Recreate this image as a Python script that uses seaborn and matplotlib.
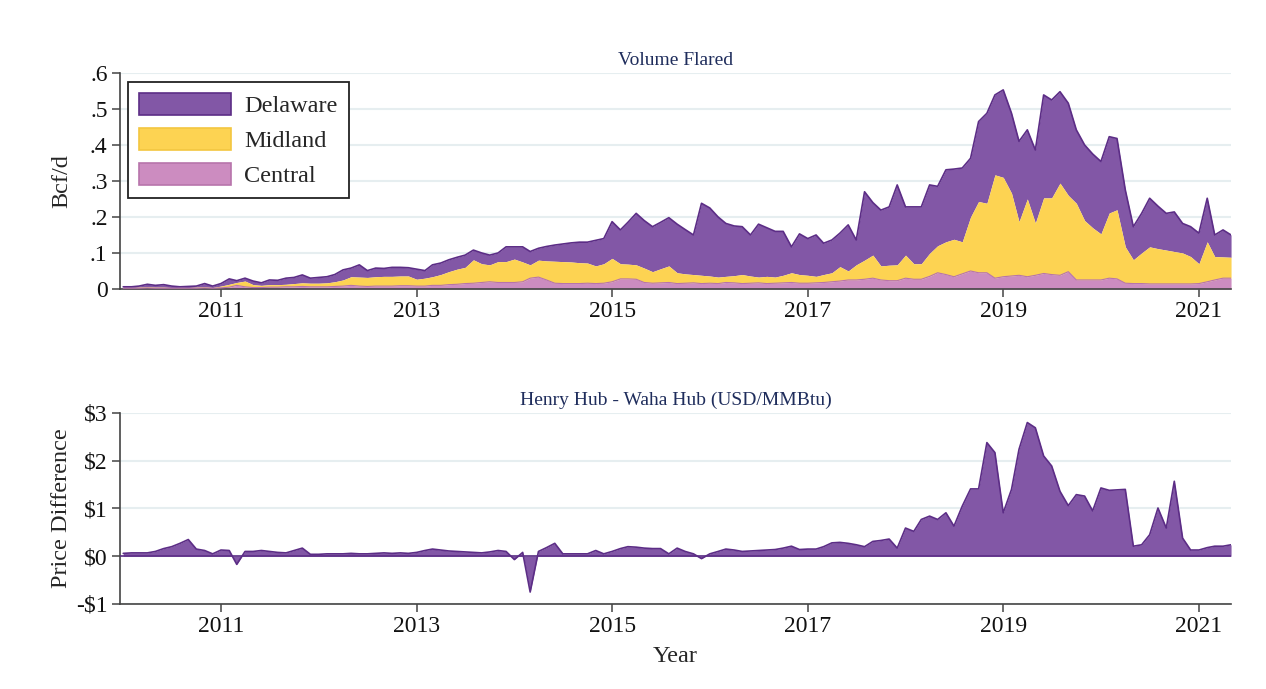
import matplotlib
matplotlib.use("Agg")
import matplotlib.pyplot as plt
import matplotlib.dates as mdates
from matplotlib.patches import Patch
import pandas as pd
import seaborn as sns

# monthly dates, Jan 2010 - May 2021
months = pd.date_range("2010-01-01", "2021-05-01", freq="MS")

# upper panel, read as stacked layer tops (Bcf/d)
# total = Delaware + Midland + Central
total_flared = [
    0.006, 0.006, 0.008, 0.013, 0.010, 0.012, 0.008, 0.006, 0.007, 0.008, 0.015, 0.008,
    0.015, 0.028, 0.023, 0.030, 0.022, 0.017, 0.025, 0.024, 0.030, 0.032, 0.039, 0.030,
    0.032, 0.034, 0.040, 0.053, 0.058, 0.067, 0.051, 0.058, 0.057, 0.060, 0.060, 0.059,
    0.055, 0.051, 0.067, 0.072, 0.081, 0.088, 0.094, 0.108, 0.100, 0.094, 0.100, 0.117,
    0.117, 0.117, 0.104, 0.113, 0.118, 0.122, 0.125, 0.128, 0.130, 0.130, 0.135, 0.140,
    0.187, 0.164, 0.185, 0.210, 0.190, 0.173, 0.185, 0.198, 0.180, 0.165, 0.150, 0.238,
    0.225, 0.200, 0.182, 0.175, 0.173, 0.150, 0.180, 0.170, 0.160, 0.160, 0.117, 0.153,
    0.140, 0.150, 0.127, 0.136, 0.155, 0.178, 0.136, 0.270, 0.240, 0.219, 0.228, 0.289,
    0.228, 0.228, 0.228, 0.289, 0.285, 0.331, 0.333, 0.336, 0.363, 0.465, 0.488, 0.539,
    0.553, 0.488, 0.410, 0.442, 0.386, 0.539, 0.525, 0.548, 0.516, 0.442, 0.400, 0.375,
    0.354, 0.423, 0.418, 0.275, 0.173, 0.210, 0.252, 0.230, 0.210, 0.214, 0.182, 0.173,
    0.155, 0.252, 0.150, 0.164, 0.150,
]
# Midland + Central
midland_top = [
    0.004, 0.004, 0.005, 0.006, 0.005, 0.005, 0.004, 0.004, 0.004, 0.005, 0.006, 0.004,
    0.008, 0.013, 0.018, 0.022, 0.012, 0.010, 0.012, 0.012, 0.013, 0.015, 0.017, 0.016,
    0.016, 0.017, 0.020, 0.025, 0.034, 0.033, 0.032, 0.034, 0.035, 0.035, 0.036, 0.036,
    0.027, 0.030, 0.034, 0.040, 0.048, 0.055, 0.060, 0.081, 0.070, 0.067, 0.076, 0.076,
    0.083, 0.075, 0.067, 0.080, 0.078, 0.077, 0.076, 0.075, 0.073, 0.072, 0.064, 0.070,
    0.085, 0.070, 0.069, 0.067, 0.058, 0.048, 0.056, 0.064, 0.045, 0.042, 0.040, 0.038,
    0.036, 0.033, 0.035, 0.037, 0.040, 0.036, 0.033, 0.035, 0.033, 0.038, 0.045, 0.040,
    0.038, 0.035, 0.040, 0.045, 0.062, 0.050, 0.067, 0.080, 0.094, 0.064, 0.066, 0.067,
    0.094, 0.070, 0.070, 0.099, 0.120, 0.131, 0.138, 0.131, 0.200, 0.243, 0.238, 0.317,
    0.310, 0.266, 0.187, 0.250, 0.183, 0.253, 0.253, 0.294, 0.260, 0.238, 0.190, 0.170,
    0.153, 0.211, 0.220, 0.117, 0.081, 0.100, 0.117, 0.112, 0.108, 0.104, 0.100, 0.090,
    0.070, 0.131, 0.090, 0.089, 0.088,
]
# Central
central_top = [
    0.002, 0.002, 0.002, 0.003, 0.002, 0.002, 0.002, 0.002, 0.002, 0.002, 0.003, 0.002,
    0.003, 0.005, 0.010, 0.006, 0.004, 0.004, 0.005, 0.005, 0.006, 0.006, 0.007, 0.006,
    0.006, 0.006, 0.007, 0.008, 0.010, 0.008, 0.007, 0.008, 0.008, 0.008, 0.009, 0.009,
    0.008, 0.008, 0.010, 0.010, 0.012, 0.013, 0.015, 0.016, 0.018, 0.020, 0.018, 0.018,
    0.018, 0.020, 0.030, 0.033, 0.025, 0.016, 0.015, 0.015, 0.015, 0.016, 0.015, 0.016,
    0.020, 0.028, 0.028, 0.027, 0.018, 0.016, 0.017, 0.018, 0.015, 0.016, 0.017, 0.015,
    0.016, 0.015, 0.018, 0.017, 0.015, 0.016, 0.017, 0.015, 0.016, 0.017, 0.018, 0.016,
    0.016, 0.017, 0.018, 0.020, 0.022, 0.025, 0.025, 0.027, 0.030, 0.025, 0.023, 0.023,
    0.030, 0.027, 0.027, 0.035, 0.045, 0.040, 0.034, 0.042, 0.050, 0.045, 0.045, 0.030,
    0.034, 0.036, 0.038, 0.034, 0.038, 0.043, 0.040, 0.038, 0.048, 0.025, 0.025, 0.025,
    0.025, 0.030, 0.028, 0.016, 0.015, 0.015, 0.014, 0.014, 0.014, 0.014, 0.014, 0.014,
    0.015, 0.020, 0.025, 0.030, 0.030,
]

# lower panel: Henry Hub minus Waha Hub (USD/MMBtu)
price_diff = [
    0.06, 0.07, 0.07, 0.07, 0.10, 0.16, 0.20, 0.27, 0.35, 0.15, 0.12, 0.05,
    0.13, 0.12, -0.17, 0.10, 0.10, 0.12, 0.10, 0.08, 0.07, 0.12, 0.17, 0.04,
    0.04, 0.05, 0.05, 0.05, 0.06, 0.05, 0.05, 0.06, 0.07, 0.06, 0.07, 0.06,
    0.08, 0.12, 0.15, 0.13, 0.11, 0.10, 0.09, 0.08, 0.07, 0.09, 0.12, 0.10,
    -0.07, 0.08, -0.75, 0.10, 0.18, 0.27, 0.05, 0.05, 0.05, 0.05, 0.12, 0.05,
    0.10, 0.16, 0.20, 0.19, 0.17, 0.16, 0.16, 0.05, 0.17, 0.10, 0.05, -0.05,
    0.05, 0.10, 0.15, 0.13, 0.10, 0.11, 0.12, 0.13, 0.14, 0.17, 0.21, 0.14,
    0.15, 0.15, 0.20, 0.28, 0.29, 0.27, 0.24, 0.20, 0.31, 0.33, 0.36, 0.17,
    0.59, 0.52, 0.77, 0.84, 0.77, 0.91, 0.63, 1.05, 1.41, 1.41, 2.38, 2.17,
    0.91, 1.40, 2.24, 2.80, 2.69, 2.10, 1.89, 1.36, 1.06, 1.29, 1.26, 0.95,
    1.43, 1.38, 1.39, 1.40, 0.21, 0.24, 0.45, 1.01, 0.59, 1.57, 0.38, 0.13,
    0.13, 0.18, 0.21, 0.21, 0.24,
]

purple = "#8257a6"
purple_edge = "#5c2d86"
yellow = "#fdd352"
pink = "#cc8cc0"
pink_edge = "#b774ab"
navy = "#1f2d5c"
grid_col = "#e6eef0"
axis_col = "#444444"

sns.set_theme(style="white")
plt.rcParams["font.family"] = ["Liberation Serif", "DejaVu Serif"]

fig = plt.figure(figsize=(12.66, 6.89), dpi=100)
ax1 = fig.add_axes([0.0948, 0.5806, 0.8776, 0.3135])
ax2 = fig.add_axes([0.0948, 0.1234, 0.8776, 0.2772])

# ---- top: stacked flaring volumes
ax1.fill_between(months, midland_top, total_flared, color=purple, lw=0, zorder=2)
ax1.fill_between(months, central_top, midland_top, color=yellow, lw=0, zorder=2)
ax1.fill_between(months, 0, central_top, color=pink, lw=0, zorder=2)
sns.lineplot(x=months, y=total_flared, ax=ax1, color=purple_edge, lw=1.2, zorder=3)
sns.lineplot(x=months, y=central_top, ax=ax1, color=pink_edge, lw=0.8, zorder=3)

ax1.set_ylim(0, 0.6)
ax1.set_yticks([0, 0.1, 0.2, 0.3, 0.4, 0.5, 0.6])
ax1.set_yticklabels(["0", ".1", ".2", ".3", ".4", ".5", ".6"])
ax1.set_ylabel("Bcf/d", fontsize=17.5)
ax1.set_title("Volume Flared", fontsize=14, color=navy, pad=6)

legend_handles = [
    Patch(facecolor=purple, edgecolor=purple_edge, lw=1.2, label="Delaware"),
    Patch(facecolor=yellow, edgecolor="#f3c640", lw=1.2, label="Midland"),
    Patch(facecolor=pink, edgecolor=pink_edge, lw=1.2, label="Central"),
]
leg = ax1.legend(handles=legend_handles, loc="upper left", bbox_to_anchor=(0.007, 0.958),
                 borderaxespad=0, fontsize=17.5, handlelength=3.8, handleheight=1.0,
                 labelspacing=0.45, handletextpad=0.55, borderpad=0.45,
                 fancybox=False, framealpha=1)
leg.get_frame().set_edgecolor("#222222")
leg.get_frame().set_linewidth(1.3)

# ---- bottom: price spread
ax2.fill_between(months, 0, price_diff, color=purple, lw=0, zorder=2)
sns.lineplot(x=months, y=price_diff, ax=ax2, color=purple_edge, lw=1.2, zorder=3)
ax2.axhline(0, color=purple_edge, lw=1.2, zorder=3)

ax2.set_ylim(-1, 3)
ax2.set_yticks([-1, 0, 1, 2, 3])
ax2.set_yticklabels(["-\\$1", "\\$0", "\\$1", "\\$2", "\\$3"])
ax2.set_ylabel("Price Difference", fontsize=17.5)
ax2.set_xlabel("Year", fontsize=17.5)
ax2.set_title("Henry Hub - Waha Hub (USD/MMBtu)", fontsize=14, color=navy, pad=6)

for ax in (ax1, ax2):
    ax.set_xlim(pd.Timestamp("2009-12-20"), pd.Timestamp("2021-05-01"))
    ax.set_xticks(pd.to_datetime(["2011-01-01", "2013-01-01", "2015-01-01",
                                  "2017-01-01", "2019-01-01", "2021-01-01"]))
    ax.xaxis.set_major_formatter(mdates.DateFormatter("%Y"))
    ax.yaxis.grid(True, color=grid_col, lw=1.5)
    ax.xaxis.grid(False)
    ax.set_axisbelow(True)
    for side in ("top", "right"):
        ax.spines[side].set_visible(False)
    for side in ("left", "bottom"):
        ax.spines[side].set_color(axis_col)
        ax.spines[side].set_linewidth(1.2)
    ax.tick_params(axis="both", direction="out", length=6, width=1.1, color=axis_col,
                   labelsize=17, labelcolor="#111111", left=True, bottom=True, pad=3)
    ax.yaxis.set_label_coords(-0.043, 0.5)

ax1.set_xlabel("")
ax2.xaxis.set_label_coords(0.5, -0.22)

plt.savefig("out.png", dpi=100)
